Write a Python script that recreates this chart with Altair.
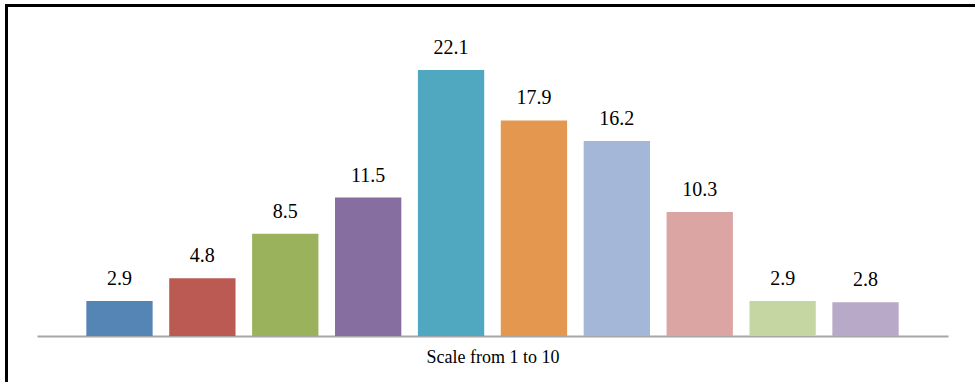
import altair as alt
import pandas as pd

categories = [1, 2, 3, 4, 5, 6, 7, 8, 9, 10]
values = [2.9, 4.8, 8.5, 11.5, 22.1, 17.9, 16.2, 10.3, 2.9, 2.8]
labels = ["2.9", "4.8", "8.5", "11.5", "22.1", "17.9", "16.2", "10.3", "2.9", "2.8"]
colors = ["#5585B5", "#BA5A53", "#9BB25C", "#866FA0", "#4FA8C0",
          "#E4974E", "#A4B7D9", "#DBA5A3", "#C6D6A3", "#B8A9C9"]

df = pd.DataFrame({"cat": categories, "value": values, "label": labels})

x = alt.X("cat:O",
          scale=alt.Scale(paddingInner=0.2, paddingOuter=0.595),
          axis=alt.Axis(title="Scale from 1 to 10", labels=False, ticks=False,
                        domainColor="#a6a6a6", domainWidth=2,
                        titleFont="Liberation Serif", titleFontSize=18,
                        titleFontWeight="normal", titleColor="#000000",
                        titlePadding=12))
y = alt.Y("value:Q", scale=alt.Scale(domain=[0, 25], nice=False), axis=None)

bars = alt.Chart(df).mark_bar().encode(
    x=x, y=y,
    color=alt.Color("cat:O", scale=alt.Scale(domain=categories, range=colors), legend=None),
)
text = alt.Chart(df).mark_text(font="Liberation Serif", fontSize=20, baseline="alphabetic",
                               dy=-16, color="#000000").encode(
    x=alt.X("cat:O"), y=alt.Y("value:Q"), text="label:N"
)

frame_df = pd.DataFrame({"k": [0]})
left_line = alt.Chart(frame_df).mark_rule(color="#000000", strokeWidth=3, clip=False).encode(
    x=alt.value(-30.5), y=alt.value(-29.5), y2=alt.value(400)
)
top_line = alt.Chart(frame_df).mark_rule(color="#000000", strokeWidth=3, clip=False).encode(
    x=alt.value(-32), x2=alt.value(1000), y=alt.value(-29.5)
)

chart = alt.layer(bars, text, left_line, top_line).properties(
    width=911, height=301,
    autosize=alt.AutoSizeParams(type="none"),
    padding={"left": 37, "top": 35, "right": 27, "bottom": 46},
    background="white",
).configure_view(stroke=None)

chart.save("out.html", embed_options={"renderer": "svg", "actions": False})
